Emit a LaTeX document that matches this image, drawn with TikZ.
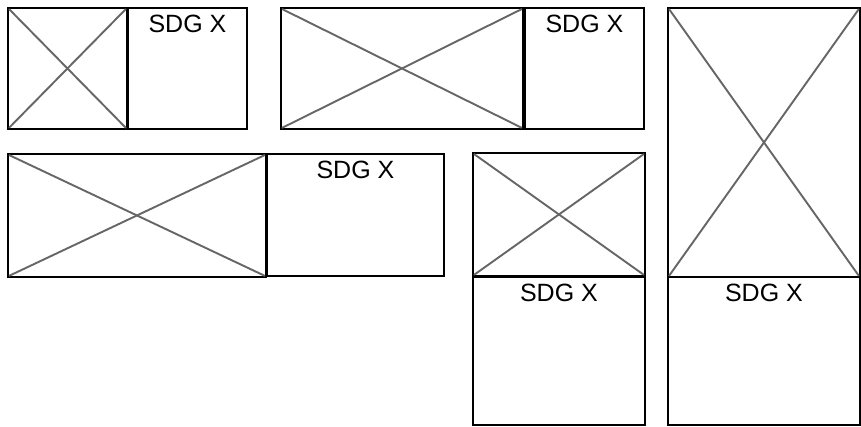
\documentclass[tikz,border=0pt]{standalone}
\usepackage{fontspec}
\setmainfont{Liberation Sans}
\tikzset{
  box/.style={draw=black, line width=1.9pt, fill=white, inner sep=0pt, anchor=north west},
  cross/.style={draw=black!60, line width=1.9pt},
  lbl/.style={inner sep=0pt, anchor=base, font=\fontsize{25}{30}\selectfont}
}
\begin{document}
\begin{tikzpicture}[x=1pt,y=-1pt]
\useasboundingbox (0,0) rectangle (861,426);
% group 1
\node[box, minimum width=119pt, minimum height=121pt] (i1) at (7,7) {};
\node[box, minimum width=119pt, minimum height=121pt] (s1) at (127,7) {};
% group 2
\node[box, minimum width=242pt, minimum height=121pt] (i2) at (280,7) {};
\node[box, minimum width=119pt, minimum height=121pt] (s2) at (524,7) {};
% group 3
\node[box, minimum width=258pt, minimum height=123pt] (i3) at (7,153) {};
\node[box, minimum width=177pt, minimum height=122pt] (s3) at (266,153) {};
% group 4
\node[box, minimum width=172pt, minimum height=123pt] (i4) at (472,152) {};
\node[box, minimum width=172pt, minimum height=148pt] (s4) at (472,276) {};
% group 5
\node[box, minimum width=192pt, minimum height=269pt] (i5) at (667,7) {};
\node[box, minimum width=192pt, minimum height=148pt] (s5) at (667,276) {};
% crosses
\foreach \n in {i1,i2,i3,i4,i5}{
  \draw[cross] ([shift={(2,2)}]\n.north west) -- ([shift={(-2,-2)}]\n.south east);
  \draw[cross] ([shift={(2,-2)}]\n.south west) -- ([shift={(-2,2)}]\n.north east);
}
% labels
\node[lbl] (t1) at ([yshift=-25.5pt]s1.north) {SDG X};
\node[lbl] (t2) at ([yshift=-25.5pt]s2.north) {SDG X};
\node[lbl] (t3) at ([yshift=-25.5pt]s3.north) {SDG X};
\node[lbl] (t4) at ([yshift=-25.5pt]s4.north) {SDG X};
\node[lbl] (t5) at ([yshift=-25.5pt]s5.north) {SDG X};
\end{tikzpicture}
\end{document}
